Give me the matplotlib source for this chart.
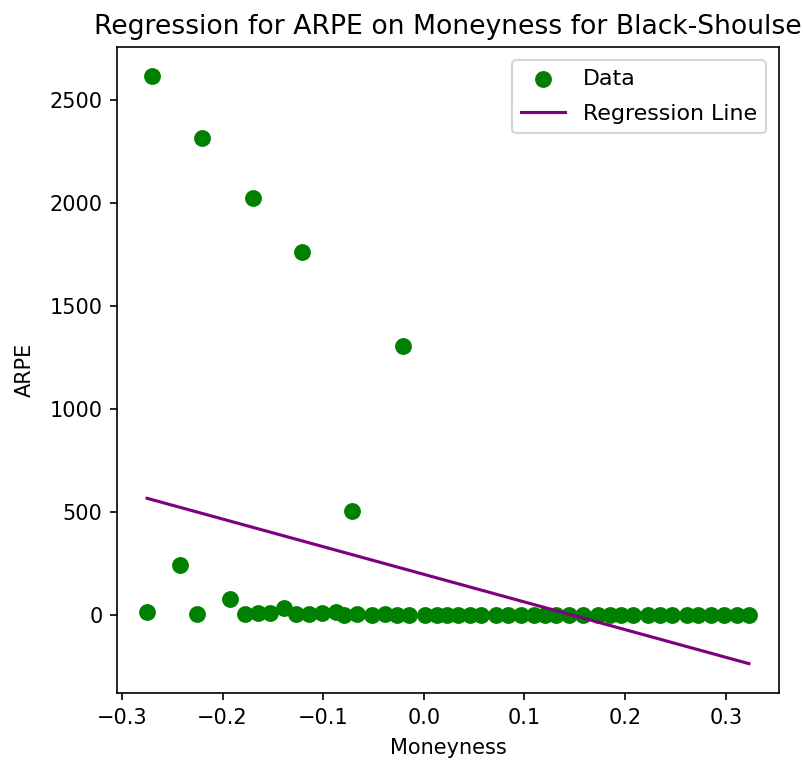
import matplotlib
matplotlib.use("Agg")
import matplotlib.pyplot as plt
import numpy as np

# outlying points
moneyness_hi = [-0.270, -0.220, -0.170, -0.121, -0.021, -0.0715, -0.242, -0.275, -0.225, -0.193]
arpe_hi = [2616, 2316, 2024, 1762, 1306, 505, 243, 15, 5, 78]

# the long run of near-zero points
moneyness_lo = [-0.178, -0.165, -0.153, -0.139, -0.127, -0.114, -0.101, -0.087, -0.079,
                -0.066, -0.052, -0.039, -0.027, -0.015, 0.001, 0.013, 0.023, 0.034,
                0.046, 0.057, 0.072, 0.084, 0.097, 0.109, 0.120, 0.131, 0.144, 0.158,
                0.173, 0.185, 0.196, 0.208, 0.223, 0.235, 0.247, 0.261, 0.272, 0.285,
                0.298, 0.311, 0.323]
arpe_lo = [5, 12, 10, 38, 8, 6, 9, 18, 4, 7, 3, 5, 2, 4, 1, 3, 2, 1, 2, 1, 1, 2, 1, 1,
           1, 0, 1, 0, 1, 0, 0, 0, 0, 0, 0, 0, 0, 0, 0, 0, 0]

# regression line as drawn in the chart
reg_intercept = 199
reg_slope = -1342

moneyness = np.array(moneyness_hi + moneyness_lo)
arpe = np.array(arpe_hi + arpe_lo)

fig = plt.figure(figsize=(803 / 150, 763 / 150), dpi=150)
ax = fig.add_axes([117 / 803, 70 / 763, 662 / 803, 646 / 763])

ax.scatter(moneyness, arpe, color='green', s=50, label='Data')
xs = np.sort(moneyness)
ax.plot(xs, reg_intercept + reg_slope * xs, color='purple', label='Regression Line')

ax.set_title('Regression for ARPE on Moneyness for Black-Shoulse', fontsize=12.8)
ax.set_xlabel('Moneyness', labelpad=5)
ax.set_ylabel('ARPE', labelpad=7)
ax.legend(loc='upper right', fontsize=10.6, labelspacing=0.68, borderaxespad=0.6)

fig.savefig('out.png', dpi=150)
